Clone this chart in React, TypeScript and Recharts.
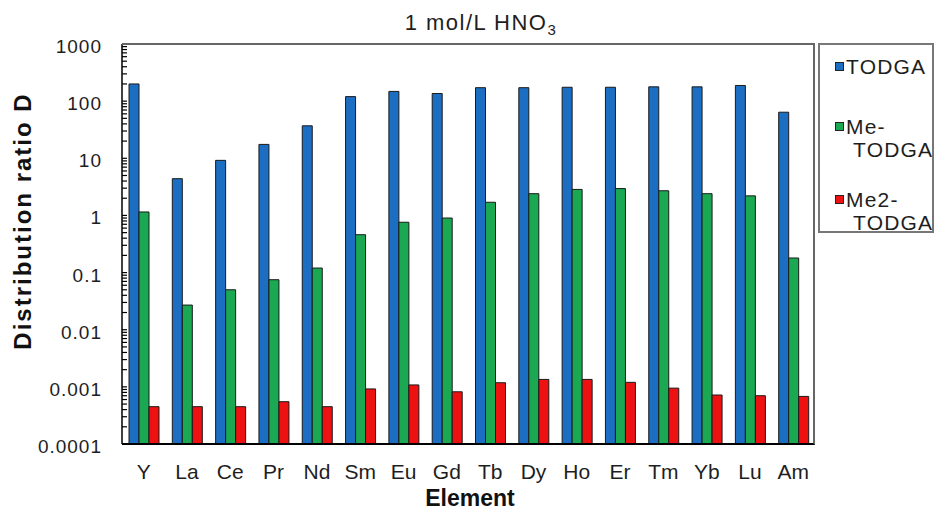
import React from 'react';
import { BarChart, Bar, XAxis, YAxis } from 'recharts';

const elements = ['Y', 'La', 'Ce', 'Pr', 'Nd', 'Sm', 'Eu', 'Gd', 'Tb', 'Dy', 'Ho', 'Er', 'Tm', 'Yb', 'Lu', 'Am'];
const todga = [200, 4.4, 9.2, 17.5, 37, 120, 148, 136, 172, 172, 175, 175, 178, 178, 188, 64];
const meTodga = [1.15, 0.027, 0.05, 0.075, 0.12, 0.46, 0.76, 0.9, 1.7, 2.4, 2.85, 2.95, 2.7, 2.4, 2.2, 0.18];
const me2Todga = [0.00045, 0.00045, 0.00045, 0.00055, 0.00045, 0.00092, 0.00108, 0.00082, 0.00118, 0.00135, 0.00135, 0.0012, 0.00095, 0.00072, 0.0007, 0.00068];

const seriesKeys = ['todga', 'meTodga', 'me2Todga'];
const seriesNames = ['TODGA', 'Me-TODGA', 'Me2-TODGA'];
const legendLines = [['TODGA'], ['Me-', 'TODGA'], ['Me2-', 'TODGA']];
const seriesColors = ['#1b6ec2', '#1aa852', '#ee1111'];

const yMajorTicks = [0.0001, 0.001, 0.01, 0.1, 1, 10, 100, 1000];
const yMajorLabels = ['0.0001', '0.001', '0.01', '0.1', '1', '10', '100', '1000'];

// minor log ticks (2..9 in every decade), plus the majors
const yTicks: number[] = [];
yMajorTicks.forEach((m, i) => {
  yTicks.push(m);
  if (i < yMajorTicks.length - 1) {
    for (let k = 2; k <= 9; k++) yTicks.push(Number((m * k).toPrecision(3)));
  }
});

// tick marks between the element groups (numeric edge axis, 0..16)
const edgeTicks = elements.slice(1).map((_, i) => i + 1);

const data = elements.map((el, i) => ({
  element: el,
  todga: todga[i],
  meTodga: meTodga[i],
  me2Todga: me2Todga[i],
}));

const W = 935;
const H = 512;
const PLOT_LEFT = 122;
const PLOT_TOP = 44;
const PLOT_RIGHT = 815;
const PLOT_BOTTOM = 444;
const FONT = '"Liberation Sans", Arial, sans-serif';

const YTick = (props: any) => {
  const { x, y, payload } = props;
  const idx = yMajorTicks.indexOf(payload.value);
  if (idx < 0) return <g />;
  return (
    <text x={x} y={y} dy={9} textAnchor="end" fontSize={19} letterSpacing={1} fill="#1e1e1e" fontFamily={FONT}>
      {yMajorLabels[idx]}
    </text>
  );
};

const XTick = (props: any) => {
  const { x, y, payload } = props;
  return (
    <text x={x} y={y} dy={34} textAnchor="middle" fontSize={21} fill="#1e1e1e" fontFamily={FONT}>
      {payload.value}
    </text>
  );
};

const legendTops = [53, 113, 186];

export default function App() {
  return (
    <div style={{ position: 'absolute', left: 0, top: 0, width: W, height: H, background: '#fff', fontFamily: FONT }}>
      <BarChart
        width={W}
        height={H}
        data={data}
        margin={{ top: PLOT_TOP, right: W - PLOT_RIGHT, bottom: H - PLOT_BOTTOM - 31, left: 2 }}
        barGap={0}
        barSize={10}
      >
        <XAxis
          xAxisId={0}
          type="number"
          domain={[0, elements.length]}
          ticks={edgeTicks}
          interval={0}
          height={1}
          tick={false}
          tickSize={-5}
          tickLine={{ stroke: '#000', strokeWidth: 1.2 }}
          axisLine={false}
        />
        <XAxis
          xAxisId={1}
          dataKey="element"
          height={30}
          tickLine={false}
          tickSize={0}
          tickMargin={0}
          interval={0}
          axisLine={false}
          tick={(p: any) => <XTick {...p} />}
        />
        <YAxis
          type="number"
          scale="log"
          domain={[0.0001, 1000]}
          allowDataOverflow
          ticks={yTicks}
          interval={0}
          width={PLOT_LEFT - 2}
          tickSize={-5}
          tickMargin={25}
          tickLine={{ stroke: '#000', strokeWidth: 1.2 }}
          axisLine={{ stroke: '#000', strokeWidth: 1.5 }}
          tick={(p: any) => <YTick {...p} />}
        />
        {seriesKeys.map((k, i) => (
          <Bar
            key={k}
            xAxisId={1}
            dataKey={k}
            name={seriesNames[i]}
            fill={seriesColors[i]}
            stroke="#1a1a1a"
            strokeWidth={1}
            isAnimationActive={false}
          />
        ))}
      </BarChart>

      {/* plot frame: black bottom axis line, grey top and right */}
      <div
        style={{
          position: 'absolute',
          left: PLOT_LEFT,
          top: PLOT_TOP - 1,
          width: PLOT_RIGHT - PLOT_LEFT,
          height: PLOT_BOTTOM - PLOT_TOP + 2,
          borderTop: '2px solid #666',
          borderRight: '2px solid #666',
          borderBottom: '2px solid #000',
          boxSizing: 'border-box',
          pointerEvents: 'none',
        }}
      />

      {/* title */}
      <div
        style={{
          position: 'absolute',
          left: 281,
          top: 10,
          width: 400,
          textAlign: 'center',
          fontSize: 22,
          letterSpacing: 1.5,
          color: '#1e1e1e',
          whiteSpace: 'nowrap',
        }}
      >
        1 mol/L HNO<sub style={{ fontSize: 15 }}>3</sub>
      </div>

      {/* y axis title */}
      <div
        style={{
          position: 'absolute',
          left: 23,
          top: 221,
          transform: 'translate(-50%, -50%) rotate(-90deg)',
          fontSize: 24,
          fontWeight: 'bold',
          letterSpacing: 2,
          color: '#111',
          whiteSpace: 'nowrap',
        }}
      >
        Distribution ratio D
      </div>

      {/* x axis title */}
      <div
        style={{
          position: 'absolute',
          left: 470,
          top: 498,
          transform: 'translate(-50%, -50%)',
          fontSize: 23,
          fontWeight: 'bold',
          color: '#111',
          whiteSpace: 'nowrap',
        }}
      >
        Element
      </div>

      {/* legend */}
      <div
        style={{
          position: 'absolute',
          left: 818,
          top: 43,
          width: 116,
          height: 190,
          border: '2px solid #777',
          boxSizing: 'border-box',
        }}
      >
        {seriesNames.map((n, i) => (
          <div key={n} style={{ position: 'absolute', left: 15, top: legendTops[i] - 43, fontSize: 21, lineHeight: '23px', color: '#1e1e1e' }}>
            {legendLines[i].map((line, j) => (
              <div key={j} style={{ display: 'flex', alignItems: 'center', whiteSpace: 'nowrap', paddingLeft: j === 0 ? 0 : 18 }}>
                {j === 0 && (
                  <span
                    style={{
                      display: 'inline-block',
                      width: 7,
                      height: 7,
                      background: seriesColors[i],
                      border: '1px solid #222',
                      marginRight: 2,
                    }}
                  />
                )}
                <span style={{ letterSpacing: 1.2 }}>{line}</span>
              </div>
            ))}
          </div>
        ))}
      </div>
    </div>
  );
}
